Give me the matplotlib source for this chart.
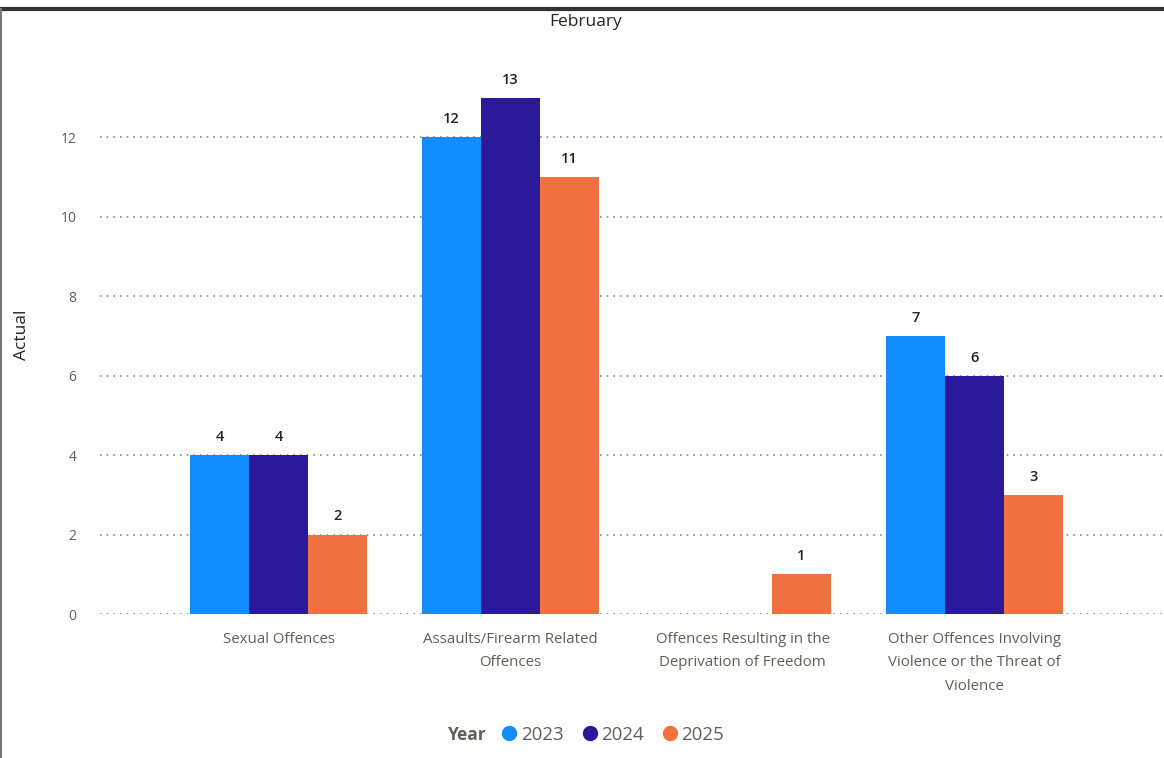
import numpy as np
import matplotlib.pyplot as plt
from matplotlib.lines import Line2D

plt.rcParams['font.family'] = ['Open Sans', 'DejaVu Sans']

categories = ['Sexual Offences',
              'Assaults/Firearm Related\nOffences',
              'Offences Resulting in the\nDeprivation of Freedom',
              'Other Offences Involving\nViolence or the Threat of\nViolence']
years = ['2023', '2024', '2025']
v2023 = [4, 12, 0, 7]
v2024 = [4, 13, 0, 6]
v2025 = [2, 11, 1, 3]
colors = ['#118DFF', '#2A1A9B', '#F07040']

W, H = 1164, 758
fig = plt.figure(figsize=(W/100, H/100), dpi=100)
ax = fig.add_axes([100/W, 1-614/H, 1-100/W, (614-50)/H])

x = np.arange(len(categories))
bw = 0.254
for i, (vals, c) in enumerate(zip([v2023, v2024, v2025], colors)):
    pos = x + (i-1)*bw
    ax.bar(pos, vals, bw, color=c, zorder=3)
    for p, v in zip(pos, vals):
        if v > 0:
            ax.annotate(str(v), (p, v), xytext=(0, 8), textcoords='offset points',
                        ha='center', va='bottom', fontsize=10.5, fontweight='semibold',
                        color='#252423')

ax.set_xlim(-0.77, 3.816)
ax.set_ylim(0, 14.2)
ax.set_yticks(range(0, 13, 2))
ax.yaxis.grid(True, linestyle=(0, (1, 3)), color='#8a8a8a', lw=1.2, zorder=0)
ax.set_axisbelow(True)
for s in ax.spines.values():
    s.set_visible(False)
ax.tick_params(axis='both', length=0, labelsize=10, labelcolor='#605E5C')
ax.tick_params(axis='y', pad=17)
ax.tick_params(axis='x', pad=13)
ax.set_xticks(x)
ax.set_xticklabels(categories, fontsize=10.8, linespacing=1.75)
fig.text(22/W, 1-335/H, 'Actual', rotation=90, ha='center', va='center',
         fontsize=12.5, color='#252423')
fig.text(586/W, 1-22/H, 'February', ha='center', va='center', fontsize=12.5, color='#252423')

# legend
fig.text(467/W, 1-735/H, 'Year', ha='center', va='center', fontsize=12.5,
         fontweight='bold', color='#605E5C')
handles = [Line2D([], [], marker='o', ls='', color=c, markersize=10) for c in colors]
fig.legend(handles, years, loc='center left', bbox_to_anchor=(500/W, 1-735/H), ncol=3,
           frameon=False, handlelength=1.0, handletextpad=0.1, columnspacing=0.9,
           fontsize=13.5, labelcolor='#605E5C', borderpad=0, borderaxespad=0)

# frame lines
fig.add_artist(Line2D([0, 1], [1-9/H, 1-9/H], color='#333333', lw=3, transform=fig.transFigure))
fig.add_artist(Line2D([1/W, 1/W], [0, 1-9/H], color='#777777', lw=1.5, transform=fig.transFigure))

fig.savefig('out.png', dpi=100)
